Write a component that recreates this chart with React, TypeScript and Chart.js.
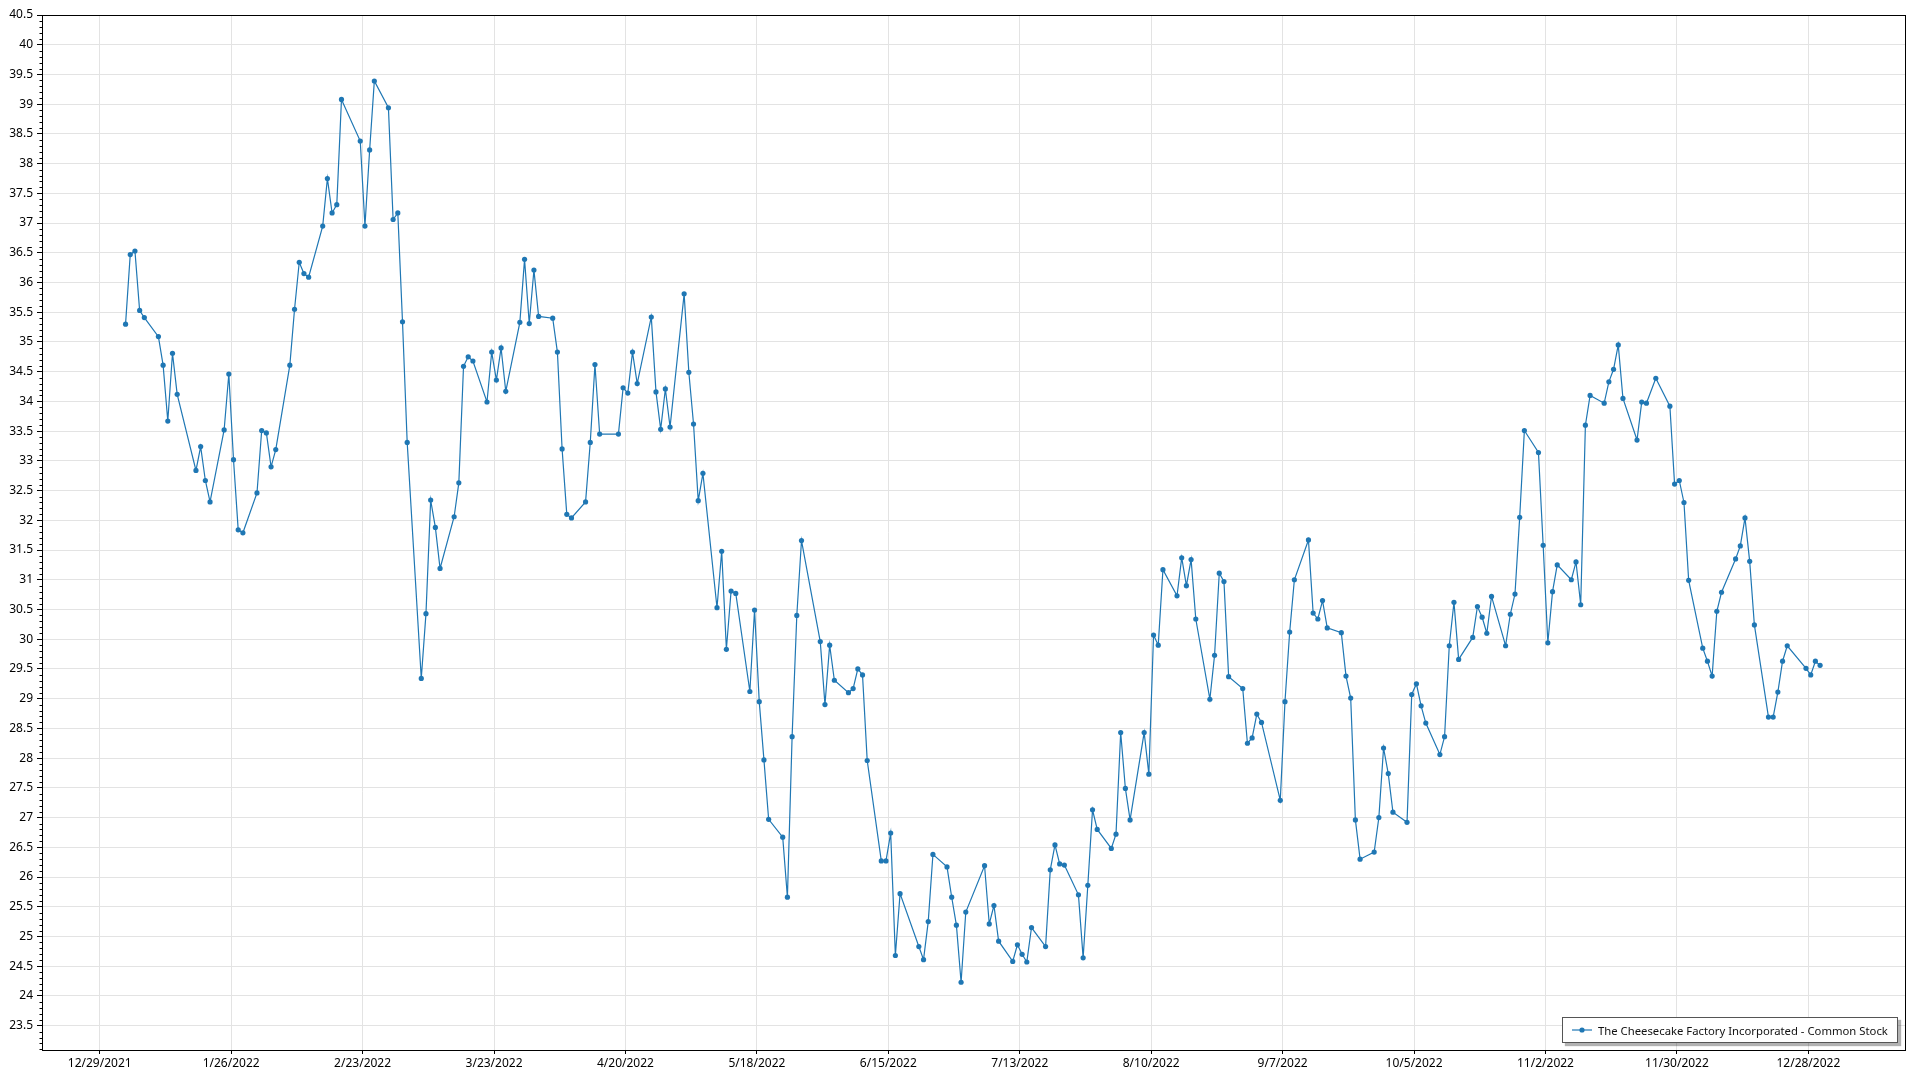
import React, { useEffect, useRef } from "react";
import { Chart, registerables } from "chart.js";

Chart.register(...registerables);

const seriesName = "The Cheesecake Factory Incorporated - Common Stock";

const tradingDates = [
  "2022-01-03","2022-01-04","2022-01-05","2022-01-06","2022-01-07","2022-01-10","2022-01-11","2022-01-12","2022-01-13","2022-01-14",
  "2022-01-18","2022-01-19","2022-01-20","2022-01-21","2022-01-24","2022-01-25","2022-01-26","2022-01-27","2022-01-28","2022-01-31",
  "2022-02-01","2022-02-02","2022-02-03","2022-02-04","2022-02-07","2022-02-08","2022-02-09","2022-02-10","2022-02-11","2022-02-14",
  "2022-02-15","2022-02-16","2022-02-17","2022-02-18","2022-02-22","2022-02-23","2022-02-24","2022-02-25","2022-02-28",
  "2022-03-01","2022-03-02","2022-03-03","2022-03-04","2022-03-07","2022-03-08","2022-03-09","2022-03-10","2022-03-11","2022-03-14",
  "2022-03-15","2022-03-16","2022-03-17","2022-03-18","2022-03-21","2022-03-22","2022-03-23","2022-03-24","2022-03-25","2022-03-28",
  "2022-03-29","2022-03-30","2022-03-31",
  "2022-04-01","2022-04-04","2022-04-05","2022-04-06","2022-04-07","2022-04-08","2022-04-11","2022-04-12","2022-04-13","2022-04-14",
  "2022-04-18","2022-04-19","2022-04-20","2022-04-21","2022-04-22","2022-04-25","2022-04-26","2022-04-27","2022-04-28","2022-04-29",
  "2022-05-02","2022-05-03","2022-05-04","2022-05-05","2022-05-06","2022-05-09","2022-05-10","2022-05-11","2022-05-12","2022-05-13",
  "2022-05-16","2022-05-17","2022-05-18","2022-05-19","2022-05-20","2022-05-23","2022-05-24","2022-05-25","2022-05-26","2022-05-27",
  "2022-05-31",
  "2022-06-01","2022-06-02","2022-06-03","2022-06-06","2022-06-07","2022-06-08","2022-06-09","2022-06-10","2022-06-13","2022-06-14",
  "2022-06-15","2022-06-16","2022-06-17","2022-06-21","2022-06-22","2022-06-23","2022-06-24","2022-06-27","2022-06-28","2022-06-29",
  "2022-06-30",
  "2022-07-01","2022-07-05","2022-07-06","2022-07-07","2022-07-08","2022-07-11","2022-07-12","2022-07-13","2022-07-14","2022-07-15",
  "2022-07-18","2022-07-19","2022-07-20","2022-07-21","2022-07-22","2022-07-25","2022-07-26","2022-07-27","2022-07-28","2022-07-29",
  "2022-08-01","2022-08-02","2022-08-03","2022-08-04","2022-08-05","2022-08-08","2022-08-09","2022-08-10","2022-08-11","2022-08-12",
  "2022-08-15","2022-08-16","2022-08-17","2022-08-18","2022-08-19","2022-08-22","2022-08-23","2022-08-24","2022-08-25","2022-08-26",
  "2022-08-29","2022-08-30","2022-08-31",
  "2022-09-01","2022-09-02","2022-09-06","2022-09-07","2022-09-08","2022-09-09","2022-09-12","2022-09-13","2022-09-14","2022-09-15",
  "2022-09-16","2022-09-19","2022-09-20","2022-09-21","2022-09-22","2022-09-23","2022-09-26","2022-09-27","2022-09-28","2022-09-29",
  "2022-09-30",
  "2022-10-03","2022-10-04","2022-10-05","2022-10-06","2022-10-07","2022-10-10","2022-10-11","2022-10-12","2022-10-13","2022-10-14",
  "2022-10-17","2022-10-18","2022-10-19","2022-10-20","2022-10-21","2022-10-24","2022-10-25","2022-10-26","2022-10-27","2022-10-28",
  "2022-10-31",
  "2022-11-01","2022-11-02","2022-11-03","2022-11-04","2022-11-07","2022-11-08","2022-11-09","2022-11-10","2022-11-11","2022-11-14",
  "2022-11-15","2022-11-16","2022-11-17","2022-11-18","2022-11-21","2022-11-22","2022-11-23","2022-11-25","2022-11-28","2022-11-29",
  "2022-11-30",
  "2022-12-01","2022-12-02","2022-12-05","2022-12-06","2022-12-07","2022-12-08","2022-12-09","2022-12-12","2022-12-13","2022-12-14",
  "2022-12-15","2022-12-16","2022-12-19","2022-12-20","2022-12-21","2022-12-22","2022-12-23","2022-12-27","2022-12-28","2022-12-29",
  "2022-12-30",
];

const closePrices = [
  // Jan
  35.30, 36.47, 36.53, 35.53, 35.41, 35.09, 34.61, 33.67, 34.81, 34.12,
  32.84, 33.24, 32.67, 32.31, 33.52, 34.46, 33.02, 31.84, 31.79, 32.46,
  // Feb
  33.51, 33.47, 32.90, 33.19, 34.61, 35.55, 36.34, 36.15, 36.09, 36.95,
  37.75, 37.17, 37.31, 39.08, 38.38, 36.95, 38.23, 39.39, 38.94,
  // Mar
  37.06, 37.17, 35.34, 33.31, 29.34, 30.43, 32.34, 31.88, 31.19, 32.06,
  32.63, 34.59, 34.75, 34.68, 33.99, 34.83, 34.36, 34.90, 34.17, 35.33,
  36.39, 35.31, 36.21,
  // Apr
  35.43, 35.40, 34.83, 33.20, 32.10, 32.04, 32.31, 33.31, 34.62, 33.45,
  33.45, 34.23, 34.14, 34.83, 34.30, 35.42, 34.16, 33.53, 34.21, 33.57,
  // May
  35.81, 34.49, 33.62, 32.33, 32.79, 30.53, 31.48, 29.83, 30.81, 30.77,
  29.12, 30.49, 28.95, 27.97, 26.97, 26.67, 25.66, 28.36, 30.40, 31.66,
  29.96,
  // Jun
  28.90, 29.90, 29.31, 29.10, 29.17, 29.50, 29.40, 27.96, 26.27, 26.27,
  26.74, 24.68, 25.72, 24.83, 24.61, 25.25, 26.38, 26.17, 25.66, 25.19,
  24.23,
  // Jul
  25.41, 26.19, 25.21, 25.52, 24.92, 24.58, 24.86, 24.70, 24.57, 25.15,
  24.83, 26.12, 26.54, 26.22, 26.20, 25.70, 24.64, 25.86, 27.13, 26.80,
  // Aug
  26.48, 26.72, 28.43, 27.49, 26.96, 28.43, 27.73, 30.07, 29.90, 31.17,
  30.73, 31.37, 30.90, 31.34, 30.34, 28.99, 29.73, 31.11, 30.97, 29.37,
  29.17, 28.25, 28.34,
  // Sep
  28.74, 28.60, 27.29, 28.95, 30.12, 31.00, 31.67, 30.44, 30.34, 30.65,
  30.19, 30.11, 29.38, 29.01, 26.96, 26.30, 26.42, 27.00, 28.17, 27.74,
  27.09,
  // Oct
  26.92, 29.07, 29.25, 28.88, 28.59, 28.06, 28.36, 29.89, 30.62, 29.66,
  30.03, 30.55, 30.37, 30.10, 30.72, 29.89, 30.42, 30.76, 32.05, 33.51,
  33.14,
  // Nov
  31.58, 29.94, 30.80, 31.25, 31.00, 31.30, 30.58, 33.60, 34.10, 33.97,
  34.33, 34.54, 34.95, 34.05, 33.35, 33.99, 33.97, 34.39, 33.92, 32.61,
  32.67,
  // Dec
  32.30, 30.99, 29.85, 29.63, 29.38, 30.47, 30.79, 31.35, 31.57, 32.04,
  31.31, 30.24, 28.69, 28.69, 29.11, 29.63, 29.89, 29.51, 29.40, 29.63,
  29.56,
];

const xTickLabels = [
  "12/29/2021", "1/26/2022", "2/23/2022", "3/23/2022", "4/20/2022", "5/18/2022", "6/15/2022",
  "7/13/2022", "8/10/2022", "9/7/2022", "10/5/2022", "11/2/2022", "11/30/2022", "12/28/2022",
];

const yTickValues = [
  23.5, 24, 24.5, 25, 25.5, 26, 26.5, 27, 27.5, 28, 28.5, 29, 29.5, 30, 30.5, 31, 31.5, 32,
  32.5, 33, 33.5, 34, 34.5, 35, 35.5, 36, 36.5, 37, 37.5, 38, 38.5, 39, 39.5, 40, 40.5,
];

// axis ranges (days since 12/29/2021, price)
const X_MIN = -12.3;
const X_MAX = 384.8;
const Y_MIN = 23.09;
const Y_MAX = 40.5;
// each quote is stamped at midday of its trading session
const SESSION_TIME = 0.5;

const DAY = 86400000;
const ORIGIN = Date.UTC(2021, 11, 29);

function isoToDay(s: string): number {
  const [y, m, d] = s.split("-").map(Number);
  return (Date.UTC(y, m - 1, d) - ORIGIN) / DAY;
}
function mdyToDay(s: string): number {
  const [m, d, y] = s.split("/").map(Number);
  return (Date.UTC(y, m - 1, d) - ORIGIN) / DAY;
}

const FONT_FAMILY = "'Segoe UI', 'Noto Sans', 'Open Sans', sans-serif";
const LINE_COLOR = "#1f77b4";

const framePlugin = {
  id: "frame",
  afterDraw(chart: any) {
    const { ctx, chartArea: a, scales } = chart;
    const y = scales.y;
    ctx.save();
    ctx.strokeStyle = "#000";
    ctx.lineWidth = 1;
    ctx.beginPath();
    for (let i = Math.ceil(Y_MIN * 10); i <= Math.floor(Y_MAX * 10); i++) {
      if (i % 5 === 0) continue;
      const py = Math.round(y.getPixelForValue(i / 10)) + 0.5;
      ctx.moveTo(a.left - 2.5, py);
      ctx.lineTo(a.left, py);
    }
    ctx.stroke();
    ctx.strokeRect(a.left + 0.5, a.top + 0.5, a.right - a.left - 1, a.bottom - a.top);
    ctx.restore();
  },
};

export default function App() {
  const canvasRef = useRef<HTMLCanvasElement | null>(null);

  useEffect(() => {
    const canvas = canvasRef.current;
    if (!canvas) return;
    const points = tradingDates.map((d, i) => ({ x: isoToDay(d) + SESSION_TIME, y: closePrices[i] }));
    const xTickValues = xTickLabels.map(mdyToDay);
    const font = { family: FONT_FAMILY, size: 12 };

    const chart = new Chart(canvas, {
      type: "line",
      data: {
        datasets: [
          {
            label: seriesName,
            data: points,
            borderColor: LINE_COLOR,
            backgroundColor: LINE_COLOR,
            borderWidth: 1.2,
            pointRadius: 2.6,
            pointHoverRadius: 2.6,
            pointBorderWidth: 0,
            pointBackgroundColor: LINE_COLOR,
            tension: 0,
            fill: false,
          },
        ],
      },
      options: {
        animation: false,
        responsive: false,
        devicePixelRatio: 1,
        events: [],
        layout: { padding: { top: 15, right: 14, left: 0, bottom: 0 } },
        plugins: { legend: { display: false }, tooltip: { enabled: false } },
        scales: {
          x: {
            type: "linear",
            min: X_MIN,
            max: X_MAX,
            afterBuildTicks: (s: any) => {
              s.ticks = xTickValues.map((v) => ({ value: v }));
            },
            afterFit: (s: any) => {
              s.height = 30;
            },
            ticks: {
              autoSkip: false,
              maxRotation: 0,
              color: "#000",
              font,
              padding: 2,
              callback: (v: any) => {
                const idx = xTickValues.indexOf(Number(v));
                return idx >= 0 ? xTickLabels[idx] : "";
              },
            },
            grid: { color: "#e3e3e3", tickColor: "#000", tickLength: 4 },
            border: { display: false },
          },
          y: {
            type: "linear",
            min: Y_MIN,
            max: Y_MAX,
            afterBuildTicks: (s: any) => {
              s.ticks = yTickValues.map((v) => ({ value: v }));
            },
            afterFit: (s: any) => {
              s.width = 42;
            },
            ticks: {
              color: "#000",
              font,
              padding: 4,
              callback: (v: any) => String(v),
            },
            grid: { color: "#e3e3e3", tickColor: "#000", tickLength: 5 },
            border: { display: false },
          },
        },
      },
      plugins: [framePlugin],
    });
    return () => chart.destroy();
  }, []);

  return (
    <div style={{ position: "absolute", left: 0, top: 0, width: 1920, height: 1080, background: "#fff" }}>
      <canvas ref={canvasRef} width={1920} height={1080} style={{ display: "block" }} />
      <div
        style={{
          position: "absolute",
          left: 1562,
          top: 1017,
          width: 336,
          height: 26,
          boxSizing: "border-box",
          border: "1px solid #555",
          background: "#fff",
          boxShadow: "3px 3px 1px rgba(0,0,0,0.3)",
          display: "flex",
          alignItems: "center",
          fontFamily: FONT_FAMILY,
          fontSize: 11.3,
          color: "#111",
          whiteSpace: "nowrap",
          overflow: "hidden",
        }}
      >
        <svg width={20} height={8} style={{ marginLeft: 9, flex: "none" }}>
          <line x1={0} y1={4} x2={20} y2={4} stroke={LINE_COLOR} strokeWidth={1.2} />
          <circle cx={10} cy={4} r={2.6} fill={LINE_COLOR} />
        </svg>
        <span style={{ marginLeft: 6 }}>{seriesName}</span>
      </div>
    </div>
  );
}
